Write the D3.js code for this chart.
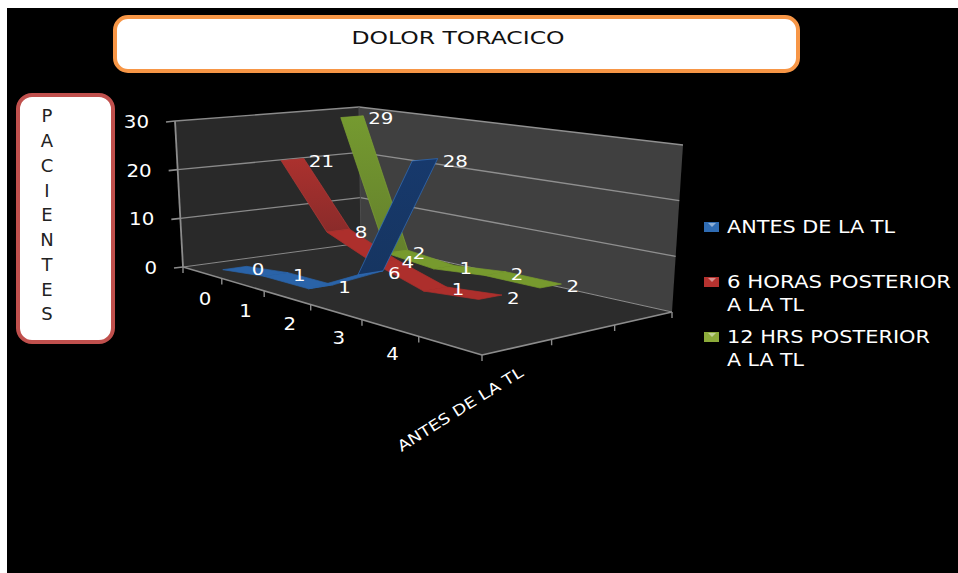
<!DOCTYPE html>
<html><head><meta charset="utf-8">
<style>html,body{margin:0;padding:0;background:#fff;overflow:hidden}svg{display:block}text{font-family:"DejaVu Sans",sans-serif}</style>
<script src="https://cdn.jsdelivr.net/npm/d3@7"></script></head><body>
<svg id="c" width="958" height="573"></svg>
<script>
const categories = ["0","1","2","3","4"];
const seriesNames = ["ANTES DE LA TL","6 HORAS POSTERIOR|A LA TL","12 HRS POSTERIOR|A LA TL"];
const antes = [0,1,1,6,28];
const seis = [21,8,4,1,2];
const doce = [29,2,1,2,2];
const yTicks = [0,10,20,30];
const title = "DOLOR TORACICO";
const yTitle = "PACIENTES";
const xTitle = "ANTES DE LA TL";

const svg = d3.select("#c");
svg.append("rect").attr("x",7).attr("y",8).attr("width",951).attr("height",565).attr("fill","#000");

// box of the 3D chart: floor and ceiling quads on the screen
const floorQ = [[183,267],[482,355],[672,312],[361,243]];
const topQ   = [[175,121],[476,163],[683,145],[359,107]];
function homography(q){
  const [a,b,c,d]=q;
  const dx1=b[0]-c[0],dx2=d[0]-c[0],sx=a[0]-b[0]+c[0]-d[0];
  const dy1=b[1]-c[1],dy2=d[1]-c[1],sy=a[1]-b[1]+c[1]-d[1];
  const den=dx1*dy2-dy1*dx2;
  const g=(sx*dy2-sy*dx2)/den,h=(dx1*sy-dy1*sx)/den;
  return (u,v)=>{const w=1+g*u+h*v;
    return [(b[0]-a[0]+g*b[0])*u/w+(d[0]-a[0]+h*d[0])*v/w+a[0]/w,
            (b[1]-a[1]+g*b[1])*u/w+(d[1]-a[1]+h*d[1])*v/w+a[1]/w];};
}
const F=homography(floorQ),T=homography(topQ);
const uScale=d3.scaleBand().domain([...categories,"_"]).range([0,1]);
const vScale=d3.scaleBand().domain(seriesNames).range([0,1]);
const zScale=d3.scaleLinear().domain([0,30]).range([0,1]);
const P=(u,v,z)=>{const a=F(u,v),b=T(u,v);return [a[0]+(b[0]-a[0])*z,a[1]+(b[1]-a[1])*z];};
const uC=c=>uScale(c)+uScale.bandwidth()/2;
const poly=(pts,fill,stroke,sw)=>svg.append("path").attr("d",d3.line()(pts)+"Z").attr("fill",fill).attr("stroke",stroke||"none").attr("stroke-width",sw||0);
const ln=(a,b,col,sw)=>svg.append("line").attr("x1",a[0]).attr("y1",a[1]).attr("x2",b[0]).attr("y2",b[1]).attr("stroke",col||"#8c8c8c").attr("stroke-width",sw||1.5);
const wide=(sel,t,per)=>sel.attr("textLength",String(t).length*per).attr("lengthAdjust","spacingAndGlyphs");

// walls
const defs=svg.append("defs");
poly([P(0,0,0),P(0,1,0),P(0,1,1),P(0,0,1)],"#292929");
poly([P(0,1,0),P(1,1,0),P(1,1,1),P(0,1,1)],"#404040");
poly([P(0,0,0),P(1,0,0),P(1,1,0),P(0,1,0)],"#2c2c2c");

// gridlines
yTicks.forEach(t=>{
  const z=zScale(t);
  ln(P(0,0,z),P(0,1,z),"#8a8a8a",t?1.4:1);
  ln(P(0,1,z),P(1,1,z),"#8f8f8f",t?1.4:1);
  const a=P(0,0,z);
  ln([a[0]-9,a[1]+1],a,"#8c8c8c",1.6);
  wide(svg.append("text").attr("x",a[0]-26).attr("y",a[1]+1).attr("dy","0.36em").attr("text-anchor","end")
    .attr("fill","#fff").attr("font-size",17),t,12.6).text(t);
});
ln(P(0,0,0),P(0,0,1),"#8c8c8c",1.8);
ln(P(0,1,0),P(0,1,1),"#4d4d4d",1);
ln(P(1,0,0),P(1,1,0),"#8c8c8c",1.6);
ln(P(0,0,0),P(1,0,0),"#8c8c8c",1.6);

// axis ticks
const uStep=uScale.step();
d3.range(0,uScale.domain().length+1).forEach(i=>{const a=P(i*uStep,0,0);ln(a,[a[0],a[1]+6],"#8c8c8c",1.4);});
vScale.domain().forEach((s,i)=>{const a=P(1,(i+1)*vScale.step(),0);ln(a,[a[0],a[1]+6],"#8c8c8c",1.4);});
categories.forEach(c=>{
  const a=P(uC(c),0,0);
  wide(svg.append("text").attr("x",a[0]+3).attr("y",a[1]+26).attr("dy","0.36em").attr("text-anchor","middle").attr("fill","#fff").attr("font-size",17),c,12.6).text(c);
});

// ribbons, back to front
const halfDepth=0.062;
const ribbonStyle=[
 {flat:"#2a63a8",top:"#17396c",bottom:"#163561",edge:"#2f6fbf"},
 {flat:"#ad2f2c",top:"#ab312e",bottom:"#8a2b2a",edge:"#b53a36"},
 {flat:"#779a2e",top:"#759a30",bottom:"#64802c",edge:"#7ea233"}];
ribbonStyle.forEach((st,i)=>{
  const g=defs.append("linearGradient").attr("id","steep"+i).attr("x1",0).attr("x2",0).attr("y1",0).attr("y2",1);
  g.append("stop").attr("offset",0).attr("stop-color",st.top);
  g.append("stop").attr("offset",1).attr("stop-color",st.bottom);
});
const allSeries=[antes,seis,doce];
[2,1,0].forEach(si=>{
  const vals=allSeries[si],vc=vScale(seriesNames[si])+vScale.bandwidth()/2,st=ribbonStyle[si];
  const v0=vc-halfDepth,v1=vc+halfDepth;
  for(let i=0;i<vals.length-1;i++){
    const u0=uC(categories[i]),u1=uC(categories[i+1]),z0=zScale(vals[i]),z1=zScale(vals[i+1]);
    const steep=Math.abs(vals[i+1]-vals[i])>5;
    poly([P(u0,v0,z0),P(u1,v0,z1),P(u1,v1,z1),P(u0,v1,z0)],steep?`url(#steep${si})`:st.flat,steep?st.edge:st.flat,0.7);
  }
});
// data labels
allSeries.forEach((vals,si)=>{
  const vc=vScale(seriesNames[si])+vScale.bandwidth()/2;
  vals.forEach((d,i)=>{
    const a=P(uC(categories[i]),vc+halfDepth,zScale(d));
    wide(svg.append("text").attr("x",a[0]+5).attr("y",a[1]+2.5).attr("dy","0.36em").attr("fill","#fff").attr("font-size",16.5),d,12.6).text(d);
  });
});

// title box
svg.append("rect").attr("x",115).attr("y",17).attr("width",683).attr("height",54).attr("rx",13).attr("fill","#fff").attr("stroke","#f79646").attr("stroke-width",4);
svg.append("text").attr("x",458).attr("y",38).attr("dy","0.36em").attr("text-anchor","middle").attr("fill","#111").attr("font-size",17)
  .attr("textLength",213).attr("lengthAdjust","spacingAndGlyphs").text(title);

// y title box
svg.append("rect").attr("x",18).attr("y",95).attr("width",95).attr("height",247).attr("rx",14).attr("fill","#fff").attr("stroke","#c0504d").attr("stroke-width",4);
const yLetterPos=d3.scalePoint().domain(d3.range(yTitle.length)).range([116,314]);
yTitle.split("").forEach((ch,i)=>svg.append("text").attr("x",47).attr("y",yLetterPos(i)).attr("dy","0.36em").attr("text-anchor","middle").attr("fill","#222").attr("font-size",18).text(ch));

// legend
const legendColors=["#2f6cb3","#b5322f","#8cab3a"];
const legendY=[227,282,337];
seriesNames.forEach((s,i)=>{
  const y=legendY[i];
  const g=svg.append("g");
  g.append("rect").attr("x",704).attr("y",y-5).attr("width",15).attr("height",10).attr("fill",legendColors[i]);
  g.append("path").attr("d",d3.line()([[708,y-4],[716,y-4],[712,y]])).attr("fill","#fff").attr("opacity",.45);
  s.split("|").forEach((t,j)=>{
    const tx=g.append("text").attr("x",727).attr("y",y+j*23).attr("dy","0.36em").attr("fill","#fff").attr("font-size",17).text(t);
    const L={"ANTES DE LA TL":168,"6 HORAS POSTERIOR":224,"A LA TL":77,"12 HRS POSTERIOR":203}[t];
    tx.attr("textLength",L).attr("lengthAdjust","spacingAndGlyphs");
  });
});

// depth-axis title
svg.append("text").attr("transform","translate(460,409) rotate(-32)").attr("text-anchor","middle").attr("dy","0.36em").attr("fill","#fff").attr("font-size",15)
  .attr("textLength",145).attr("lengthAdjust","spacingAndGlyphs").text(xTitle);
</script></body></html>
